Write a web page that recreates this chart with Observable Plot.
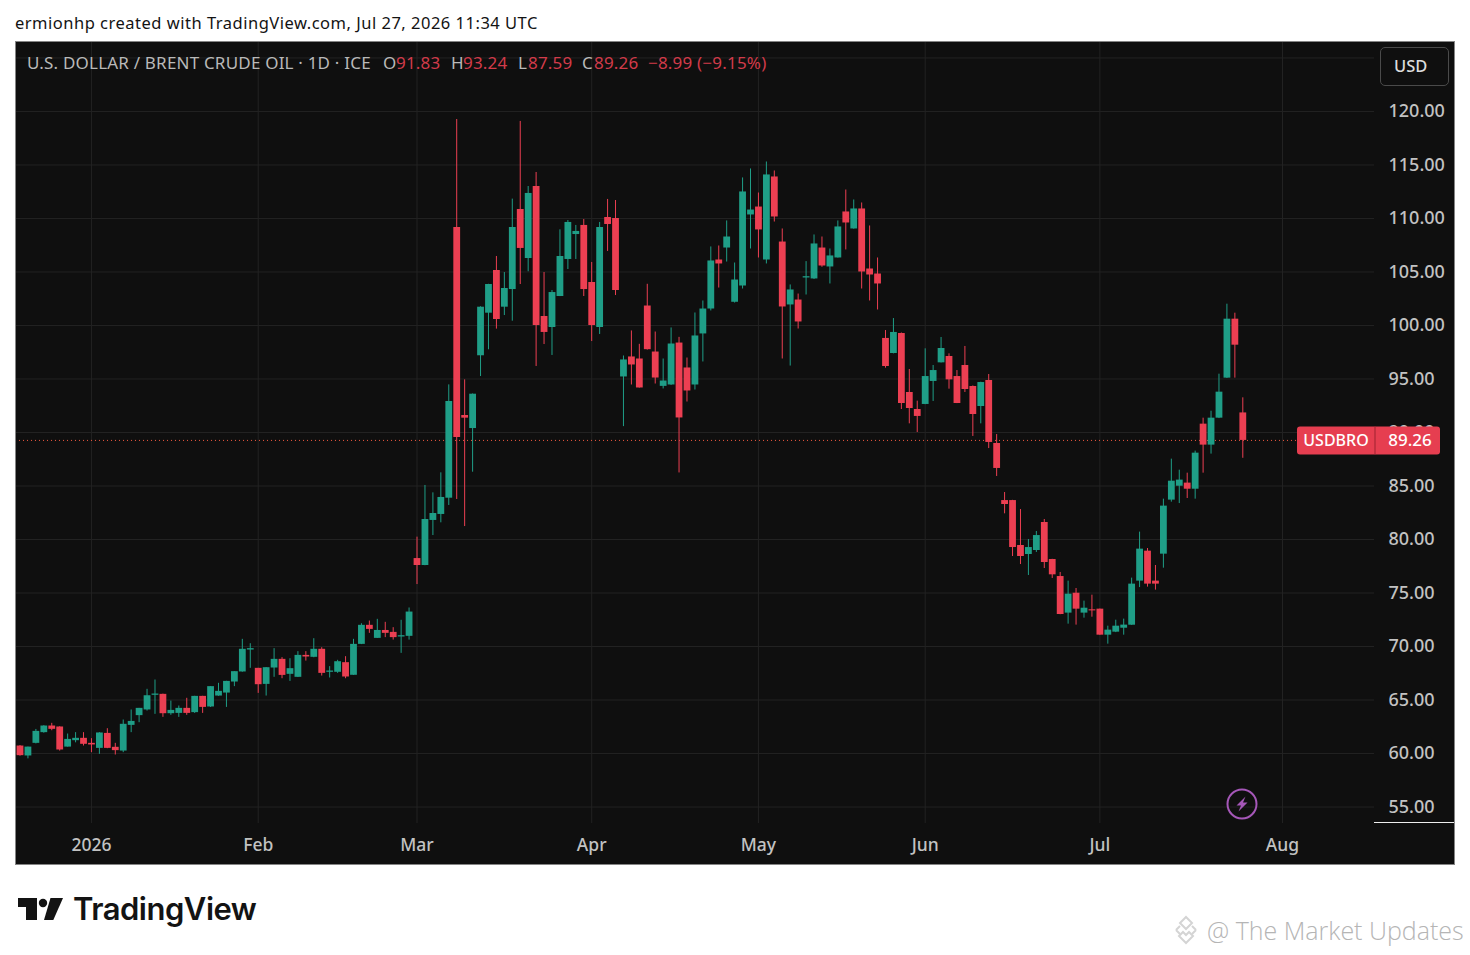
<!DOCTYPE html>
<html><head><meta charset="utf-8">
<script src="https://cdn.jsdelivr.net/npm/d3@7"></script>
<script src="https://cdn.jsdelivr.net/npm/@observablehq/plot@0.6"></script>
<style>
html,body{margin:0;padding:0;background:#fff;overflow:hidden}
#page{position:relative;width:1470px;height:955px;font-family:"Noto Sans",sans-serif}
#page>div,#page>span{position:absolute;white-space:nowrap}
#chart{left:15px;top:41px;line-height:0}
#frame{left:15px;top:41px;width:1438px;height:822px;border:1px solid #858585;z-index:3;pointer-events:none}
.lg{top:52px;font-size:17px;letter-spacing:.2px;line-height:22px;color:#b9b9b9;z-index:2}
.lv{color:#d23b4a}
</style></head><body>
<div id="page">
  <div style="left:15px;top:12px;font-size:16.5px;letter-spacing:.5px;line-height:22px;color:#131313">ermionhp created with TradingView.com, Jul 27, 2026 11:34 UTC</div>
  <div id="chart"></div>
  <div id="frame"></div>
  <span class="lg" style="left:27px">U.S. DOLLAR / BRENT CRUDE OIL · 1D · ICE</span>
  <span class="lg" style="left:383px">O</span><span class="lg lv" style="left:396px">91.83</span>
  <span class="lg" style="left:451px">H</span><span class="lg lv" style="left:463px">93.24</span>
  <span class="lg" style="left:518px">L</span><span class="lg lv" style="left:528px">87.59</span>
  <span class="lg" style="left:582px">C</span><span class="lg lv" style="left:594px">89.26</span>
  <span class="lg lv" style="left:648px">−8.99 (−9.15%)</span>
  <div style="left:1380px;top:47px;width:67px;height:37px;border:1px solid #4a4a4a;border-radius:5px;background:#0f0f0f;color:#dcdcdc;font-size:16.5px;font-weight:500;line-height:36px;text-indent:13px;z-index:2">USD</div>
  <div style="left:1226px;top:788px;width:32px;height:32px;z-index:2">
    <svg width="32" height="32" viewBox="0 0 32 32"><circle cx="16" cy="16" r="14.5" fill="none" stroke="#a557b8" stroke-width="2"/><path d="M19.5 8.5 L10.5 17.5 L15 17.5 L12.5 23.5 L21.5 14.5 L17 14.5 Z" fill="#a557b8"/></svg>
  </div>
  <div style="left:1374px;top:822px;width:80px;height:1px;background:#eee;z-index:2"></div>
  <div style="left:0;top:890px;width:70px;height:40px">
    <svg width="70" height="40" viewBox="0 0 70 40"><path d="M18 8 H37 V30 H26 V17 H18 Z" fill="#131313"/><circle cx="43" cy="13" r="4.2" fill="#131313"/><path d="M50.5 8 H63 L53.3 30 H44 Z" fill="#131313"/></svg>
  </div>
  <div style="left:73px;top:888px;font-family:Inter,sans-serif;font-weight:600;font-size:31px;line-height:42px;letter-spacing:-.5px;color:#131313">TradingView</div>
  <div style="left:1172px;top:914px;width:30px;height:32px">
    <svg width="30" height="32" viewBox="0 0 30 32" fill="none" stroke="#d4d4d4" stroke-width="2"><path d="M14 3 L20 9 L14 15 L8 9 Z"/><path d="M4 16 L8 12 M24 16 L20 12 M4 16 L8 20 M24 16 L20 20"/><path d="M14 29 L7 22 L11 18 L14 21 L17 18 L21 22 Z"/></svg>
  </div>
  <div style="left:1207px;top:913px;font-family:'Open Sans',sans-serif;font-weight:300;font-size:25px;line-height:34px;color:#b5b5b5">@ The Market Updates</div>
</div>
<script>
const opens = [60.7,59.77,60.95,61.95,62.57,62.48,60.6,61.2,61.42,60.95,60.48,61.88,60.58,60.23,62.63,63.54,64.07,65.44,65.53,63.72,63.75,64.22,63.82,65.34,64.35,65.37,65.65,66.68,67.62,69.67,67.96,66.46,67.99,68.8,67.4,67.12,69.17,68.99,69.74,67.59,67.59,68.49,67.31,70.2,71.98,70.76,71.5,71.32,70.89,70.95,
78.22,77.57,81.78,82.34,83.86,109.16,91.59,90.37,97.17,101.15,105.14,101.71,103.36,110.84,106.26,112.99,100.84,99.81,102.71,106.17,108.5,109.35,104.02,99.81,110.09,110.0,
95.19,97.06,96.87,101.82,97.52,94.31,94.44,98.36,96.03,94.44,99.21,101.54,106.12,107.24,102.17,103.69,110.33,111.07,106.12,113.88,107.8,101.92,102.38,104.44,104.35,107.24,105.47,106.31,110.61,109.02,110.89,105.28,104.81,
98.79,97.38,99.25,93.74,92.15,92.62,94.77,96.51,97.1,95.23,96.26,94.3,92.43,94.86,88.97,83.64,83.64,79.44,78.6,78.97,81.59,78.13,76.54,73.12,74.98,73.12,73.43,73.49,71.06,71.34,71.71,71.99,76.11,78.91,76.11,78.63,83.68,84.98,85.27,84.7,90.78,88.82,91.34,95.08,100.59,91.83];
const highs = [60.75,60.6,62.25,62.6,62.82,62.5,61.82,61.95,61.95,61.39,61.95,62.32,60.95,63.13,64.07,64.22,66.0,66.87,65.55,64.9,64.44,65.16,65.35,65.35,66.25,66.56,66.75,67.65,70.67,70.26,67.96,68.03,69.8,68.96,68.86,69.52,69.52,70.73,69.89,68.12,68.71,69.05,70.67,72.13,72.38,72.54,72.26,71.76,72.45,73.6,
80.22,85.05,84.36,86.23,94.45,119.25,94.92,93.6,101.75,103.85,106.45,104.95,111.81,119.07,112.99,114.3,104.95,103.27,108.94,109.81,109.35,109.9,105.89,109.63,111.78,111.68,
97.15,99.49,98.24,103.85,99.39,96.87,99.77,98.89,96.96,101.17,102.29,107.34,107.43,109.77,105.84,113.79,114.63,112.38,115.28,114.44,109.02,103.79,102.94,105.97,108.46,108.27,107.15,109.77,112.66,111.73,111.45,109.3,106.31,
99.53,100.65,99.3,95.89,92.93,97.82,96.26,98.88,97.35,95.79,98.04,94.35,94.7,95.42,89.81,84.39,83.66,82.8,80.0,80.75,81.87,78.15,76.92,76.11,75.42,74.24,74.8,73.5,71.9,72.46,72.56,76.39,80.69,79.16,77.57,83.77,87.51,86.48,86.2,88.26,91.34,91.99,95.45,101.99,101.15,93.24];
const lows = [59.75,59.5,60.9,61.9,62.13,60.23,60.6,61.0,60.7,60.08,59.92,60.45,59.86,60.08,61.95,62.88,63.97,63.66,63.38,63.57,63.38,63.57,63.75,63.75,64.3,65.35,64.31,66.25,67.6,67.96,65.62,65.37,67.12,66.99,66.74,67.1,68.64,68.95,67.24,67.06,67.49,66.99,67.3,70.18,71.23,70.75,70.83,70.6,69.36,70.6,
75.79,77.55,80.37,81.56,83.18,83.74,81.21,86.29,95.23,97.73,99.66,100.93,100.4,103.83,105.02,96.17,98.22,97.2,102.7,105.23,106.17,102.71,98.5,99.16,106.92,102.8,
90.55,94.44,94.15,97.7,94.53,94.07,94.4,86.22,92.85,93.97,96.59,101.36,103.5,105.93,102.1,103.41,107.15,106.31,105.75,109.67,96.87,96.21,99.67,102.85,104.3,105.44,103.88,106.3,107.06,109.0,103.41,102.29,101.45,
96.01,97.35,92.15,90.81,90.0,92.6,92.9,96.5,94.05,92.7,93.74,89.63,90.81,88.5,85.89,82.4,78.41,77.66,76.64,78.79,77.29,76.36,72.97,72.09,72.0,72.65,72.74,71.05,70.22,71.3,71.06,71.98,75.51,75.55,75.27,77.32,83.49,83.36,83.83,83.77,86.2,87.98,91.3,95.05,95.08,87.59];
const closes = [59.8,60.6,62.07,62.57,62.26,60.33,61.32,61.42,60.86,60.8,61.92,60.48,60.27,62.73,63.0,64.22,65.4,65.56,63.72,64.03,64.22,63.75,65.34,64.31,66.25,65.81,66.74,67.65,69.74,69.8,66.43,68.02,68.8,67.3,67.93,69.17,69.02,69.74,67.49,67.71,68.58,67.15,70.2,71.98,71.6,71.5,71.23,70.83,71.01,73.22,
77.57,81.87,82.43,83.93,92.9,89.53,91.34,93.58,101.71,103.83,100.56,103.46,109.16,107.2,112.34,100.0,99.35,103.08,106.45,109.63,108.79,103.36,100.0,109.16,109.44,103.27,
96.78,96.31,94.16,97.74,95.09,94.81,98.27,91.36,93.88,99.02,101.54,106.03,105.75,108.27,104.25,112.48,110.79,108.93,114.07,110.14,101.73,103.32,100.33,104.56,107.62,105.56,106.5,109.21,109.58,110.89,105.0,104.72,103.88,
96.17,99.35,92.71,92.24,91.5,95.23,95.79,97.85,94.92,92.71,94.02,91.68,94.67,89.07,86.64,83.27,79.25,78.41,79.25,80.37,77.85,76.7,72.99,74.89,73.49,73.58,73.33,71.06,71.53,71.9,72.0,75.83,79.1,75.83,75.83,83.12,85.45,85.55,84.7,88.07,88.82,91.34,93.77,100.59,98.16,89.26];

const monthTicks = [9,30,50,72,93,114,136,159];
const monthLabels = ["2026","Feb","Mar","Apr","May","Jun","Jul","Aug"];
const priceTicks = [55,60,65,70,75,80,85,90,95,100,105,110,115,120];
const gridPrices = [...priceTicks,125];
const lastClose = 89.26;
const symbol = "USDBRO";

const upColor = "#1f9e87", downColor = "#ec3f52", gridColor = "#222222", axisColor = "#c2c2c2";
const candles = opens.map((o,i)=>({i,o,h:highs[i],l:lows[i],c:closes[i]}));
const colorOf = d => d.c >= d.o ? upColor : downColor;

const tag = (index, {y}) => {
  const g = d3.create("svg:g").attr("font-family","Noto Sans, sans-serif").attr("font-weight",500);
  const cy = y(lastClose);
  g.append("rect").attr("x",1282).attr("y",cy-13.5).attr("width",143).attr("height",28).attr("rx",3).attr("fill","#e63e50");
  g.append("line").attr("x1",1360).attr("x2",1360).attr("y1",cy-13.5).attr("y2",cy+14.5).attr("stroke","#9e2231");
  g.append("text").attr("x",1321).attr("y",cy+6.5).attr("text-anchor","middle").attr("font-size",16).attr("fill","#fff").text(symbol);
  g.append("text").attr("x",1395).attr("y",cy+6.5).attr("text-anchor","middle").attr("font-size",17).attr("fill","#fff").text(lastClose.toFixed(2));
  return g.node();
};

const plot = Plot.plot({
  width:1439, height:824,
  marginLeft:0, marginRight:80, marginTop:0, marginBottom:42,
  style:{background:"#0f0f0f",fontFamily:"Noto Sans, sans-serif",display:"block"},
  x:{domain:[0,154],range:[4.5,1227.3]},
  y:{domain:[53.46,126.54],range:[782,0]},
  marks:[
    Plot.ruleY(gridPrices,{stroke:gridColor,strokeWidth:1}),
    Plot.ruleX(monthTicks,{stroke:gridColor,strokeWidth:1}),
    Plot.axisX({anchor:"bottom",ticks:monthTicks,tickFormat:d=>monthLabels[monthTicks.indexOf(d)],tickSize:0,tickPadding:15,fontSize:17.5,fontWeight:500,color:axisColor,label:null}),
    Plot.axisY({anchor:"right",ticks:priceTicks,tickFormat:d=>d.toFixed(2),tickSize:0,tickPadding:14,fontSize:18,fontWeight:500,color:axisColor,label:null}),
    Plot.ruleY([lastClose],{stroke:"#f0583f",strokeWidth:1,strokeDasharray:"1 3"}),
    Plot.ruleX(candles,{x:"i",y1:"l",y2:"h",stroke:colorOf,strokeWidth:1}),
    Plot.ruleX(candles,{x:"i",y1:"o",y2:"c",stroke:colorOf,strokeWidth:6.8}),
    tag
  ]
});
document.getElementById("chart").appendChild(plot);
</script>
</body></html>
